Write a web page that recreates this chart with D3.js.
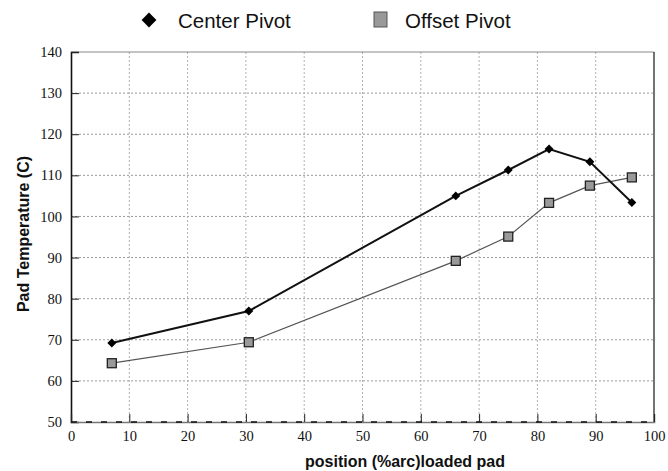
<!DOCTYPE html>
<html><head><meta charset="utf-8">
<script src="https://cdn.jsdelivr.net/npm/d3@7"></script>
<style>
body{margin:0;background:#fff}svg{display:block}
</style>
</head><body>
<svg id="c" width="668" height="471"></svg>
<script>
const positions = [7, 30.5, 66, 75, 82, 89, 96.2];
const centerPivot = [69.2, 77, 105, 111.3, 116.4, 113.3, 103.4];
const offsetPivot = [64.3, 69.4, 89.2, 95.1, 103.3, 107.5, 109.5];
const seriesNames = ["Center Pivot", "Offset Pivot"];
const xTicks = [0,10,20,30,40,50,60,70,80,90,100];
const yTicks = [50,60,70,80,90,100,110,120,130,140];

const svg = d3.select("#c");
const L = 71, R = 654, T = 52, B = 422;
const x = d3.scaleLinear().domain([0,100]).range([L,R]);
const y = d3.scaleLinear().domain([50,140]).range([B,T]);

// grid
const g = svg.append("g");
g.selectAll(".hg").data(yTicks.filter(d=>d>50&&d<140)).join("line")
  .attr("x1",L).attr("x2",R).attr("y1",d=>y(d)).attr("y2",d=>y(d))
  .attr("stroke","#9a9a9a").attr("stroke-width",1).attr("stroke-dasharray","2,2");
g.selectAll(".vg").data(xTicks.filter(d=>d>0&&d<100)).join("line")
  .attr("y1",T).attr("y2",B).attr("x1",d=>x(d)).attr("x2",d=>x(d))
  .attr("stroke","#b0b0b0").attr("stroke-width",1).attr("stroke-dasharray","2,2");

// frame
svg.append("line").attr("x1",L).attr("x2",R).attr("y1",T).attr("y2",T).attr("stroke","#888").attr("stroke-width",1.2);
svg.append("line").attr("x1",R).attr("x2",R).attr("y1",T).attr("y2",B).attr("stroke","#444").attr("stroke-width",1.5);

// axes
const yAxis = d3.axisLeft(y).tickValues(yTicks).tickSize(-8).tickPadding(9);
const xAxis = d3.axisBottom(x).tickValues(xTicks).tickSize(-8).tickPadding(9);
const ya = svg.append("g").attr("transform",`translate(${L},0)`).call(yAxis);
const xa = svg.append("g").attr("transform",`translate(0,${B})`).call(xAxis);
[ya,xa].forEach(a=>{
  a.select(".domain").attr("stroke","#111").attr("stroke-width",1.6);
  a.selectAll(".tick line").attr("stroke","#222").attr("stroke-width",1);
  a.selectAll(".tick text").attr("fill","#111")
    .attr("font-family","Liberation Serif").attr("font-size","14.5px");
});
xa.select(".domain").attr("stroke","#777");
xa.append("line").attr("x1",L).attr("x2",R).attr("y1",0).attr("y2",0)
  .attr("stroke","#111").attr("stroke-width",1.4).attr("stroke-dasharray","6,9");

// axis titles
svg.append("text").attr("x",405).attr("y",467).attr("text-anchor","middle")
  .attr("font-family","Liberation Sans").attr("font-weight","bold").attr("font-size","16px").attr("fill","#111")
  .text("position (%arc)loaded pad");
svg.append("text").attr("transform",`translate(28.5,${(T+B)/2-3}) rotate(-90)`).attr("text-anchor","middle")
  .attr("font-family","Liberation Sans").attr("font-weight","bold").attr("font-size","16px").attr("fill","#111")
  .text("Pad Temperature (C)");

// lines
const ptsC = positions.map((p,i)=>[p,centerPivot[i]]);
const ptsO = positions.map((p,i)=>[p,offsetPivot[i]]);
const line = d3.line().x(d=>x(d[0])).y(d=>y(d[1]));
svg.append("path").attr("d",line(ptsO)).attr("fill","none").attr("stroke","#555").attr("stroke-width",1.2);
svg.append("path").attr("d",line(ptsC)).attr("fill","none").attr("stroke","#111").attr("stroke-width",2);

svg.selectAll(".dm").data(ptsC).join("path")
  .attr("d",d3.symbol().type(d3.symbolSquare).size(40))
  .attr("transform",d=>`translate(${x(d[0])},${y(d[1])}) rotate(45)`).attr("fill","#000");
svg.selectAll(".sq").data(ptsO).join("rect")
  .attr("x",d=>x(d[0])-4.5).attr("y",d=>y(d[1])-4.5).attr("width",9).attr("height",9)
  .attr("fill","#999").attr("stroke","#222").attr("stroke-width",1.3);

// legend
const lg = svg.append("g").attr("font-family","Liberation Sans").attr("font-size","20.5px").attr("fill","#111");
lg.append("path").attr("d",d3.symbol().type(d3.symbolSquare).size(110)).attr("transform","translate(149,20) rotate(45)").attr("fill","#000");
lg.append("text").attr("x",178).attr("y",28).text(seriesNames[0]);
lg.append("rect").attr("x",374).attr("y",12).attr("width",13).attr("height",15).attr("fill","#999").attr("stroke","#555").attr("stroke-width",1);
lg.append("text").attr("x",405).attr("y",28).text(seriesNames[1]);
</script>
</body></html>
